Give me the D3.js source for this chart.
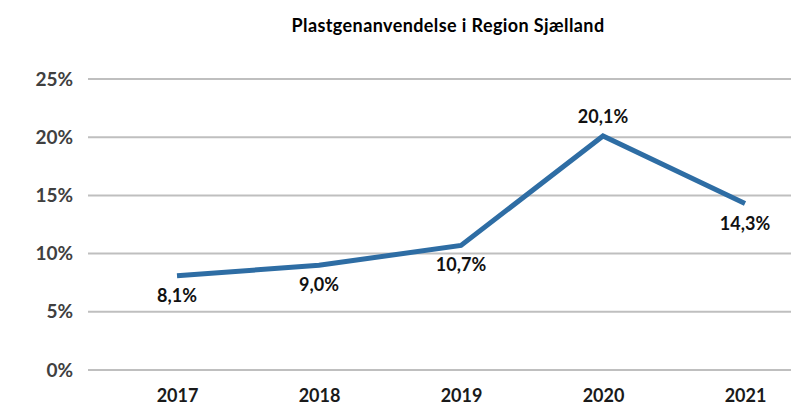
<!DOCTYPE html>
<html>
<head>
<meta charset="utf-8">
<script src="https://cdn.jsdelivr.net/npm/d3@7"></script>
<style>
  body { margin: 0; background: #fff; }
  text { font-family: Lato, "Open Sans", sans-serif; font-weight: bold; }
</style>
</head>
<body>
<div id="chart"></div>
<script>
// Chart data
const years = ['2017', '2018', '2019', '2020', '2021'];
const values = [8.1, 9.0, 10.7, 20.1, 14.3];
const labels = ['8,1%', '9,0%', '10,7%', '20,1%', '14,3%'];
const yTicks = [0, 5, 10, 15, 20, 25];
const title = 'Plastgenanvendelse i Region Sjælland';

const width = 791, height = 405;

const svg = d3.select('#chart')
    .append('svg')
    .attr('width', width)
    .attr('height', height);

const x = d3.scalePoint()
    .domain(years)
    .range([177, 745]);

const y = d3.scaleLinear()
    .domain([0, 25])
    .range([370, 79]);

// Title
svg.append('text')
    .attr('x', 448)
    .attr('y', 32)
    .attr('text-anchor', 'middle')
    .style('font-size', '18px')
    .style('letter-spacing', '0.4px')
    .style('fill', '#000')
    .text(title);

// Gridlines
svg.append('g')
    .selectAll('line')
    .data(yTicks)
    .enter()
    .append('line')
    .attr('x1', 88)
    .attr('x2', width)
    .attr('y1', d => y(d))
    .attr('y2', d => y(d))
    .style('stroke', '#bfbfbf')
    .style('stroke-width', 2);

// Y axis labels
const yAxis = svg.append('g')
    .attr('transform', 'translate(88,0)')
    .call(d3.axisLeft(y).tickValues(yTicks).tickSize(0).tickPadding(15).tickFormat(d => d + '%'));
yAxis.select('.domain').remove();
yAxis.selectAll('text')
    .style('font-size', '19px')
    .style('font-family', 'Lato, "Open Sans", sans-serif')
    .style('font-weight', 'bold')
    .style('fill', '#404040');

// X axis labels
const xAxis = svg.append('g')
    .attr('transform', 'translate(0,370)')
    .call(d3.axisBottom(x).tickSize(0).tickPadding(19));
xAxis.select('.domain').remove();
xAxis.selectAll('text')
    .style('font-size', '18px')
    .style('font-family', 'Lato, "Open Sans", sans-serif')
    .style('font-weight', 'bold')
    .style('fill', '#1a1a1a');

// Line
const line = d3.line()
    .x((d, i) => x(years[i]))
    .y(d => y(d));

svg.append('path')
    .datum(values)
    .attr('d', line)
    .style('fill', 'none')
    .style('stroke', '#2e6da4')
    .style('stroke-width', 5)
    .style('stroke-linejoin', 'miter');

// Data labels (2020 sits above the peak)
svg.append('g')
    .selectAll('text')
    .data(values)
    .enter()
    .append('text')
    .attr('x', (d, i) => x(years[i]))
    .attr('y', (d, i) => years[i] === '2020' ? y(d) - 13 : y(d) + 26)
    .attr('text-anchor', 'middle')
    .style('font-size', '18px')
    .style('fill', '#111')
    .text((d, i) => labels[i]);
</script>
</body>
</html>
